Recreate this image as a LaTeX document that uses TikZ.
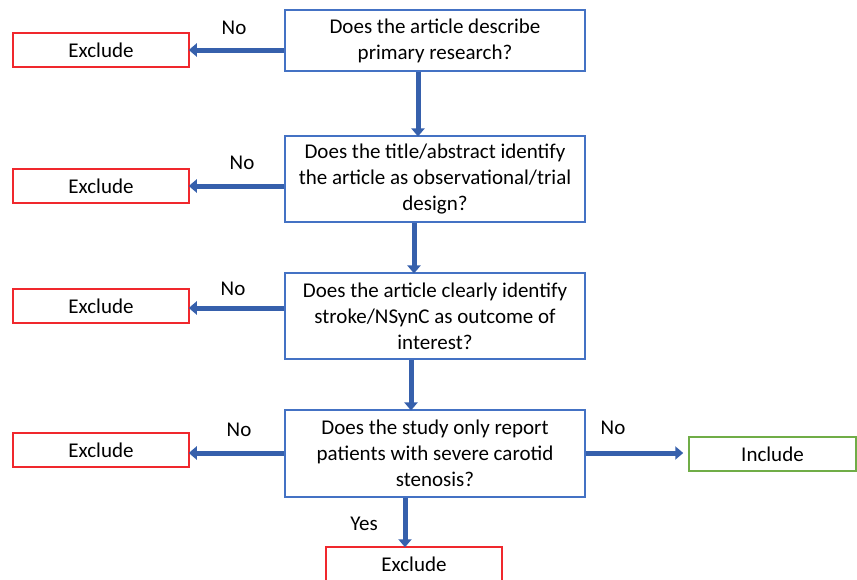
\documentclass[tikz,border=0pt]{standalone}
\usepackage{fontspec}
\setmainfont{Carlito}
\usetikzlibrary{arrows.meta,positioning,calc}
\definecolor{qblue}{HTML}{4472C4}
\definecolor{arrblue}{HTML}{3660AC}
\definecolor{exred}{RGB}{240,40,45}
\definecolor{ingreen}{HTML}{70AD47}

\begin{document}
\begin{tikzpicture}[
  x=1pt, y=-1pt,
  font=\fontsize{21}{26}\selectfont,
  % Styles
  question/.style={draw=qblue, line width=1.1pt, fill=white, align=center,
    minimum width=300pt, inner sep=2pt},
  exclude/.style={rectangle, draw=exred, line width=1.5pt, text=black, align=center,
    minimum width=176pt, minimum height=34pt, inner sep=2pt},
  include/.style={rectangle, draw=ingreen, line width=1.5pt, text=black, align=center,
    minimum width=167pt, minimum height=34pt, inner sep=2pt},
  arrow/.style={-{Triangle[length=8pt,width=13pt]}, line width=5pt, draw=arrblue, shorten >=-1pt},
  answer/.style={inner sep=0pt},
]
\useasboundingbox (0,0) rectangle (857,579);

% === Outcomes ===
\node[exclude] (ex1) at (101,50) {Exclude};
\node[exclude] (ex2) at (101,186) {Exclude};
\node[exclude] (ex3) at (101,306) {Exclude};
\node[exclude] (ex4) at (101,450) {Exclude};
\node[include] (inc) at (772.5,454) {Include};
\node[exclude] (ex5) at (414,564) {Exclude};

% === Questions ===
\node[question, minimum height=61pt] (q1) at (435,40.5) {Does the article describe\\primary research?};
\node[question, minimum height=86pt] (q2) at (435,179) {Does the title/abstract identify\\the article as observational/trial\\design?};
\node[question, minimum height=86pt] (q3) at (435,316) {Does the article clearly identify\\stroke/NSynC as outcome of\\interest?};
\node[question, minimum height=87pt] (q4) at (435,453.5) {Does the study only report\\patients with severe carotid\\stenosis?};

% === Answers ===
\node[answer] (no1) at (234,28) {No};
\node[answer] (no2) at (242,163) {No};
\node[answer] (no3) at (233,289) {No};
\node[answer] (no4) at (239,430) {No};
\node[answer] (no5) at (613,428) {No};
\node[answer] (yes) at (364,524) {Yes};

% === Arrows ===
\draw[arrow] (q1.west |- ex1.east) -- (ex1.east);
\draw[arrow] (q2.west |- ex2.east) -- (ex2.east);
\draw[arrow] (q3.west |- 0,308) -- (ex3.east |- 0,308);
\draw[arrow] (q4.west |- 0,453) -- (ex4.east |- 0,453);
\draw[arrow] (q4.east |- 0,453) -- ([xshift=-6pt]inc.west |- 0,453);
\draw[arrow] ([xshift=-17pt]q1.south) -- ([xshift=-17pt]q1.south |- q2.north);
\draw[arrow] ([xshift=-21pt]q2.south) -- ([xshift=-21pt]q2.south |- q3.north);
\draw[arrow] ([xshift=-24pt]q3.south) -- ([xshift=-24pt]q3.south |- q4.north);
\draw[arrow] ([xshift=-30pt]q4.south) -- ([xshift=-30pt]q4.south |- ex5.north);

\end{tikzpicture}
\end{document}
